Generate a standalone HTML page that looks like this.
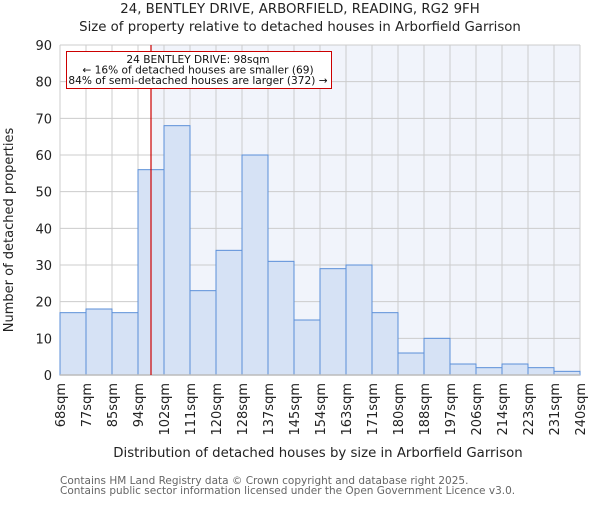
<!DOCTYPE html>
<html><head><meta charset="utf-8"><style>
body{margin:0;background:#fff;}
svg{font-family:"DejaVu Sans","Liberation Sans",sans-serif;}
</style></head><body>
<svg width="600" height="500" xmlns="http://www.w3.org/2000/svg">
<g id="root"></g>
</svg>
<script>
const categories=["68sqm","77sqm","85sqm","94sqm","102sqm","111sqm","120sqm","128sqm","137sqm","145sqm","154sqm","163sqm","171sqm","180sqm","188sqm","197sqm","206sqm","214sqm","223sqm","231sqm","240sqm"];
const values=[17,18,17,56,68,23,34,60,31,15,29,30,17,6,10,3,2,3,2,1];
const yTicks=[0,10,20,30,40,50,60,70,80,90];
const marker=98;
const binStarts=[68,77,85,94,102,111,120,128,137,145,154,163,171,180,188,197,206,214,223,231,240];
const X0=60,X1=580,Y0=375,Y1=45,YMAX=90;
const NS="http://www.w3.org/2000/svg";
const root=document.getElementById('root');
const bw=(X1-X0)/values.length;
function xAt(i){return X0+i*bw;}
function yAt(v){return Y0-(v/YMAX)*(Y0-Y1);}
function xVal(v){let i=0;while(i<binStarts.length-2&&v>=binStarts[i+1])i++;return xAt(i)+(v-binStarts[i])/(binStarts[i+1]-binStarts[i])*bw;}
function mk(t,a,txt){const e=document.createElementNS(NS,t);for(const k in a)e.setAttribute(k,a[k]);if(txt!=null)e.textContent=txt;root.appendChild(e);return e;}
const mx=xVal(marker);
let e=mk('rect',{x:mx,y:Y1,width:X1-mx,height:Y0-Y1,fill:'#f1f4fb'});


yTicks.forEach(v=>{
 let g=mk('line',{x1:X0,x2:X1,y1:yAt(v),y2:yAt(v),stroke:'#cccccc','stroke-width':1});
 
 
 let t=mk('text',{x:X0-8,y:yAt(v)+5,'text-anchor':'end','font-size':13,fill:'#222'},String(v));
 
 
});
categories.forEach((c,i)=>{
 let g=mk('line',{x1:xAt(i),x2:xAt(i),y1:Y1,y2:Y0,stroke:'#cccccc','stroke-width':1});
 
 
 let t=mk('text',{x:0,y:0,'text-anchor':'end','font-size':13,fill:'#222',transform:`translate(${xAt(i)+5},${Y0+8}) rotate(-90)`},c);
 
 
});
values.forEach((v,i)=>{
 let b=mk('rect',{x:xAt(i),y:yAt(v),width:bw,height:Y0-yAt(v),fill:'#d6e2f5',stroke:'#5b8fd8','stroke-width':1});
 
 
});
e=mk('line',{x1:X0,x2:X1,y1:Y0,y2:Y0,stroke:'#bbbbbb','stroke-width':1.5});


e=mk('line',{x1:mx,x2:mx,y1:Y1,y2:Y0,stroke:'#cc0000','stroke-width':1.2});


e=mk('rect',{x:66.5,y:51.5,width:265,height:37,fill:'#fff',stroke:'#cc0000','stroke-width':1});


[["24 BENTLEY DRIVE: 98sqm",63],["← 16% of detached houses are smaller (69)",73.5],["84% of semi-detached houses are larger (372) →",84]].forEach(([s,y])=>{
 let t=mk('text',{x:198,y:y,'text-anchor':'middle','font-size':10.6,fill:'#111'},s);
 
 
});
e=mk('text',{x:300,y:13,'text-anchor':'middle','font-size':13.3,fill:'#222'},"24, BENTLEY DRIVE, ARBORFIELD, READING, RG2 9FH");


e=mk('text',{x:300,y:31,'text-anchor':'middle','font-size':13.3,fill:'#222'},"Size of property relative to detached houses in Arborfield Garrison");


e=mk('text',{x:318,y:457,'text-anchor':'middle','font-size':13.3,fill:'#222'},"Distribution of detached houses by size in Arborfield Garrison");


e=mk('text',{x:0,y:0,'text-anchor':'middle','font-size':13,fill:'#222',transform:'translate(13,230) rotate(-90)'},"Number of detached properties");


e=mk('text',{x:60,y:484,'font-size':10.5,fill:'#666'},"Contains HM Land Registry data © Crown copyright and database right 2025.");


e=mk('text',{x:60,y:494,'font-size':10.5,fill:'#666'},"Contains public sector information licensed under the Open Government Licence v3.0.");


</script>
</body></html>
